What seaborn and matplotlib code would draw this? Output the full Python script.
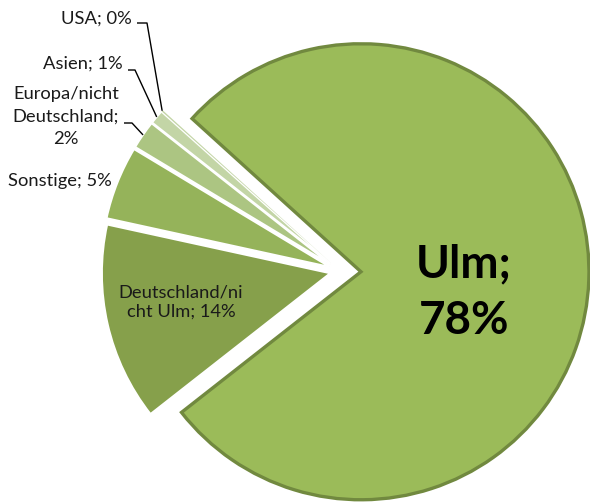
import numpy as np
import matplotlib
matplotlib.use("Agg")
import matplotlib.pyplot as plt
import seaborn as sns

# ---- data ----
categories = ["Ulm", "Deutschland/nicht Ulm", "Sonstige", "Europa/nicht Deutschland", "Asien", "USA"]
values = [77.7, 14.0, 5.2, 2.0, 1.0, 0.1]
label_texts = ["Ulm;\n{p}%", "Deutschland/ni\ncht Ulm; {p}%", "Sonstige; {p}%",
               "Europa/nicht\nDeutschland;\n{p}%", "Asien; {p}%", "USA; {p}%"]
colors = ["#9BBB59", "#86A04B", "#95B35A", "#ACC582", "#C3D5A6", "#C3D5A6"]
explode = [0.092, 0.045, 0.05, 0.05, 0.05, 0.05]

sns.set_theme(style="white")
plt.rcParams["font.family"] = ["Lato", "DejaVu Sans"]

W, H = 590, 504
CX, CY, R = 340.0, 271.0, 228.0

def px(x, y):
    return ((x - CX) / R, (CY - y) / R)

fig = plt.figure(figsize=(W / 100, H / 100), dpi=100)
ax = fig.add_axes([0, 0, 1, 1])

total = sum(values)
wedges, _ = ax.pie(values, startangle=137.8, counterclock=False, colors=colors,
                   explode=explode, radius=1.0,
                   wedgeprops=dict(edgecolor="white", linewidth=1.3))
wedges[0].set_edgecolor("#71893F")
wedges[0].set_linewidth(2.4)
wedges[0].set_zorder(3)
wedges[5].set_edgecolor("none")

pct = [int(round(v / total * 100)) for v in values]
labels = [t.format(p=p) for t, p in zip(label_texts, pct)]

def tip(i):
    w = wedges[i]
    a = np.deg2rad((w.theta1 + w.theta2) / 2)
    cx, cy = w.center
    return cx + w.r * np.cos(a), cy + w.r * np.sin(a)

small = 13.2
tc = "#1a1a1a"
# Ulm
ax.text(*px(464, 293), labels[0], ha="center", va="center", fontsize=33,
        fontweight="bold", linespacing=1.42, color="black", zorder=5)
# Deutschland / nicht Ulm
ax.text(*px(181, 302), labels[1], ha="center", va="center", fontsize=small,
        linespacing=1.3, color=tc, zorder=5)
# Sonstige
ax.text(*px(112, 181), labels[2], ha="right", va="center", fontsize=small, color=tc)
# Europa
ax.text(*px(66, 117), labels[3], ha="center", va="center", fontsize=small,
        linespacing=1.5, color=tc)
# Asien
ax.text(*px(123, 64), labels[4], ha="right", va="center", fontsize=small, color=tc)
# USA
ax.text(*px(132, 19), labels[5], ha="right", va="center", fontsize=small, color=tc)

# leader lines
leaders = {3: ((124, 123), (132, 123)), 4: ((128, 70), (135, 70)), 5: ((137, 23), (147, 23))}
for i, (p0, p1) in leaders.items():
    x0, y0 = px(*p0)
    x1, y1 = px(*p1)
    x2, y2 = tip(i)
    ax.plot([x0, x1, x2], [y0, y1, y2], color="black", linewidth=1.0, solid_capstyle="butt")

ax.set_xlim(-CX / R, (W - CX) / R)
ax.set_ylim(-(H - CY) / R, CY / R)
ax.set_aspect("equal", adjustable="box")
ax.axis("off")

fig.savefig("out.png", dpi=100, facecolor="white")
